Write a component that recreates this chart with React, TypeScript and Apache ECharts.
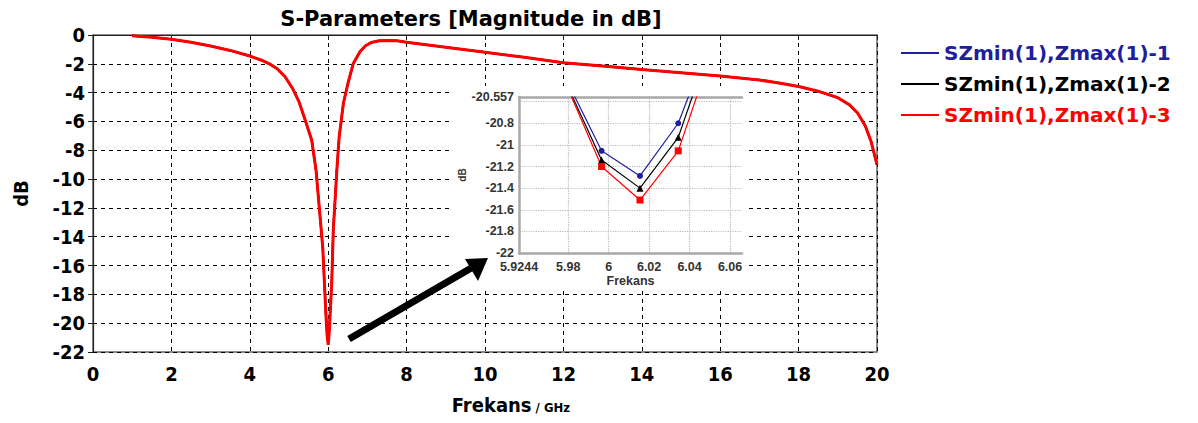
import React, { useEffect, useRef } from "react";
import * as echarts from "echarts";

// ---------- data ----------
const freqGHz = [1, 1.5, 2, 2.5, 3, 3.5, 4, 4.3, 4.5, 4.7, 4.9, 5.1, 5.25, 5.4, 5.58, 5.69, 5.77, 5.86, 5.9, 5.94, 5.97, 6.0, 6.03, 6.06, 6.09, 6.13, 6.17, 6.22, 6.28, 6.39, 6.5, 6.64, 6.81, 6.95, 7.1, 7.3, 7.5, 7.75, 8, 9, 10, 11, 12, 13, 14, 15, 16, 17, 17.5, 18, 18.5, 19, 19.3, 19.5, 19.7, 19.85, 20];
const s11Run1 = [-0.05, -0.15, -0.3, -0.5, -0.76, -1.07, -1.46, -1.75, -2.0, -2.35, -2.9, -3.75, -4.6, -5.8, -7.3, -9.4, -11.9, -14.7, -17, -19.3, -20.6, -21.29, -20.3, -18.7, -17.2, -13.5, -11.7, -9.4, -7.06, -4.7, -3.4, -1.97, -1.16, -0.75, -0.52, -0.4, -0.38, -0.4, -0.5, -0.85, -1.2, -1.55, -1.92, -2.15, -2.4, -2.62, -2.85, -3.12, -3.33, -3.58, -3.9, -4.35, -4.85, -5.4, -6.3, -7.4, -9.0];
const s11Run2 = [-0.05, -0.15, -0.3, -0.5, -0.76, -1.07, -1.46, -1.75, -2.0, -2.35, -2.9, -3.75, -4.6, -5.8, -7.3, -9.4, -11.9, -14.7, -17, -19.3, -20.7, -21.4, -20.4, -18.75, -17.2, -13.5, -11.7, -9.4, -7.06, -4.7, -3.4, -1.97, -1.16, -0.75, -0.52, -0.4, -0.38, -0.4, -0.5, -0.85, -1.2, -1.55, -1.92, -2.15, -2.4, -2.62, -2.85, -3.12, -3.33, -3.58, -3.9, -4.35, -4.85, -5.4, -6.3, -7.4, -9.0];
const s11Run3 = [-0.05, -0.15, -0.3, -0.5, -0.76, -1.07, -1.46, -1.75, -2.0, -2.35, -2.9, -3.75, -4.6, -5.8, -7.3, -9.4, -11.9, -14.7, -17, -19.3, -20.8, -21.51, -20.5, -18.8, -17.2, -13.5, -11.7, -9.4, -7.06, -4.7, -3.4, -1.97, -1.16, -0.75, -0.52, -0.4, -0.38, -0.4, -0.5, -0.85, -1.2, -1.55, -1.92, -2.15, -2.4, -2.62, -2.85, -3.12, -3.33, -3.58, -3.9, -4.35, -4.85, -5.4, -6.3, -7.4, -9.0];

const insetFreq = [5.9776, 5.9965, 6.0155, 6.0344, 6.0534];
const insetRun1 = [-20.34, -21.055, -21.287, -20.8, -19.87];
const insetRun2 = [-20.37, -21.14, -21.4, -20.93, -19.9];
const insetRun3 = [-20.38, -21.2, -21.51, -21.055, -20.01];

const insetXMin = 5.9557;
const insetXMax = 6.0659;
const insetXMinLabel = "5.9244";
const insetXTicks = [5.98, 6, 6.02, 6.04, 6.06];
const insetYMin = -22;
const insetYMax = -20.557;

const seriesNames = ["SZmin(1),Zmax(1)-1", "SZmin(1),Zmax(1)-2", "SZmin(1),Zmax(1)-3"];
const seriesColors = ["#1e1e9e", "#000000", "#ff0000"];
const insetSymbols = ["circle", "triangle", "rect"];

const pair = (xs: number[], ys: number[]) => xs.map((x, i) => [x, ys[i]]);

export default function App() {
  const ref = useRef<HTMLDivElement>(null);
  useEffect(() => {
    if (!ref.current) return;
    const chart = echarts.init(ref.current, null, { renderer: "svg" });
    const mainRuns = [s11Run1, s11Run2, s11Run3];
    const insetRuns = [insetRun1, insetRun2, insetRun3];
    const lblFont = "DejaVu Sans Condensed";
    const insetFont = "Liberation Sans";

    const option: any = {
      animation: false,
      backgroundColor: "#ffffff",
      title: {
        text: "S-Parameters [Magnitude in dB]",
        left: 466,
        top: 3,
        textAlign: "center",
        textStyle: { fontFamily: "DejaVu Sans", fontWeight: "bold", fontSize: 21, color: "#000" },
      },
      legend: {
        orient: "vertical",
        left: 896,
        top: 37,
        icon: "rect",
        itemWidth: 38,
        itemHeight: 2,
        itemGap: 9,
        textStyle: { fontFamily: "DejaVu Sans", fontWeight: "bold", fontSize: 20, lineHeight: 22 },
        data: seriesNames.map((n, i) => ({ name: n, textStyle: { color: seriesColors[i] } })),
      },
      grid: [
        { left: 93, top: 35, width: 784, height: 317, show: true, borderColor: "#666", borderWidth: 1.5 },
        { left: 519, top: 97, width: 223, height: 156 },
      ],
      xAxis: [
        {
          type: "value",
          gridIndex: 0,
          min: 0,
          max: 20,
          interval: 2,
          name: "{a|Frekans}{b| / GHz}",
          nameLocation: "middle",
          nameGap: 43,
          nameTextStyle: {
            padding: [0, 0, 0, 52],
            rich: {
              a: { fontFamily: lblFont, fontWeight: "bold", fontSize: 20, color: "#000" },
              b: { fontFamily: lblFont, fontWeight: "bold", fontSize: 13, color: "#000", padding: [5, 0, 0, 0] },
            },
          },
          axisLine: { lineStyle: { color: "#222", width: 1.2 } },
          axisTick: { show: true, length: 5, lineStyle: { color: "#222" } },
          axisLabel: { fontFamily: lblFont, fontWeight: "bold", fontSize: 20, color: "#000", margin: 12 },
          splitLine: { show: true, lineStyle: { color: "#000", type: [4, 4], width: 1 } },
        },
        {
          type: "value",
          gridIndex: 1,
          min: insetXMin,
          max: insetXMax,
          z: 3,
          name: "Frekans",
          nameLocation: "middle",
          nameGap: 21,
          nameTextStyle: { fontFamily: insetFont, fontWeight: "bold", fontSize: 12.5, color: "#333" },
          axisLine: { lineStyle: { color: "#a8a8a8", width: 2.5 } },
          axisTick: { show: false, customValues: insetXTicks },
          axisLabel: {
            customValues: [insetXMin, ...insetXTicks],
            fontFamily: insetFont,
            fontWeight: "bold",
            fontSize: 12.5,
            color: "#333",
            margin: 7,
            formatter: (v: number) => (Math.abs(v - insetXMin) < 1e-6 ? insetXMinLabel : String(+v.toFixed(4))),
          },
          splitLine: { show: true, lineStyle: { color: "#bbb", type: "dotted", width: 1.2 } },
        },
        {
          type: "value",
          gridIndex: 1,
          position: "top",
          min: insetXMin,
          max: insetXMax,
          z: 3,
          axisLine: { lineStyle: { color: "#a8a8a8", width: 2.5 } },
          axisTick: { show: false },
          axisLabel: { show: false },
          splitLine: { show: false },
        },
      ],
      yAxis: [
        {
          type: "value",
          gridIndex: 0,
          min: -22,
          max: 0,
          interval: 2,
          name: "dB",
          nameLocation: "middle",
          nameGap: 62,
          nameTextStyle: { fontFamily: lblFont, fontWeight: "bold", fontSize: 20, color: "#000" },
          axisLine: { show: true, lineStyle: { color: "#222", width: 1.2 } },
          axisTick: { show: true, length: 5, lineStyle: { color: "#222" } },
          axisLabel: { fontFamily: lblFont, fontWeight: "bold", fontSize: 20, color: "#000", margin: 8 },
          splitLine: { show: true, lineStyle: { color: "#000", type: [4, 4], width: 1 } },
        },
        {
          type: "value",
          gridIndex: 1,
          min: insetYMin,
          max: insetYMax,
          interval: 0.2,
          z: 3,
          name: "dB",
          nameLocation: "middle",
          nameGap: 52,
          nameTextStyle: { fontFamily: insetFont, fontWeight: "bold", fontSize: 10, color: "#333" },
          axisLine: { show: true, lineStyle: { color: "#a8a8a8", width: 2.5 } },
          axisTick: { show: false },
          axisLabel: {
            fontFamily: insetFont,
            fontWeight: "bold",
            fontSize: 12.5,
            color: "#333",
            margin: 5,
            formatter: (v: number) => (Math.abs(v + 20.6) < 1e-6 ? "" : String(+v.toFixed(3))),
          },
          splitLine: { show: true, lineStyle: { color: "#bbb", type: "dotted", width: 1.2 } },
        },
      ],
      graphic: [
        { type: "rect", z: 1, shape: { x: 451, y: 86, width: 296, height: 204 }, style: { fill: "#ffffff" } },
        { type: "line", z: 5, shape: { x1: 349, y1: 339, x2: 473, y2: 267 }, style: { stroke: "#000", lineWidth: 7 } },
        { type: "polygon", z: 5, shape: { points: [[488, 258], [465, 259], [478, 281]] }, style: { fill: "#000" } },
      ],
      series: [
        ...mainRuns.map((run, i) => ({
          name: seriesNames[i],
          type: "line",
          xAxisIndex: 0,
          yAxisIndex: 0,
          z: 2,
          symbol: "none",
          data: pair(freqGHz, run),
          lineStyle: { color: seriesColors[i], width: i === 2 ? 3 : 2 },
          itemStyle: { color: seriesColors[i] },
        })),
        ...insetRuns.map((run, i) => ({
          name: seriesNames[i],
          type: "line",
          xAxisIndex: 1,
          yAxisIndex: 1,
          z: 4,
          clip: true,
          symbol: insetSymbols[i],
          symbolSize: i === 0 ? 6 : 7,
          showAllSymbol: true,
          data: pair(insetFreq, run),
          lineStyle: { color: seriesColors[i], width: 1.2 },
          itemStyle: { color: seriesColors[i] },
        })),
      ],
    };
    chart.setOption(option);
    return () => chart.dispose();
  }, []);
  return <div ref={ref} style={{ position: "fixed", left: 0, top: 0, width: 1198, height: 423 }} />;
}
